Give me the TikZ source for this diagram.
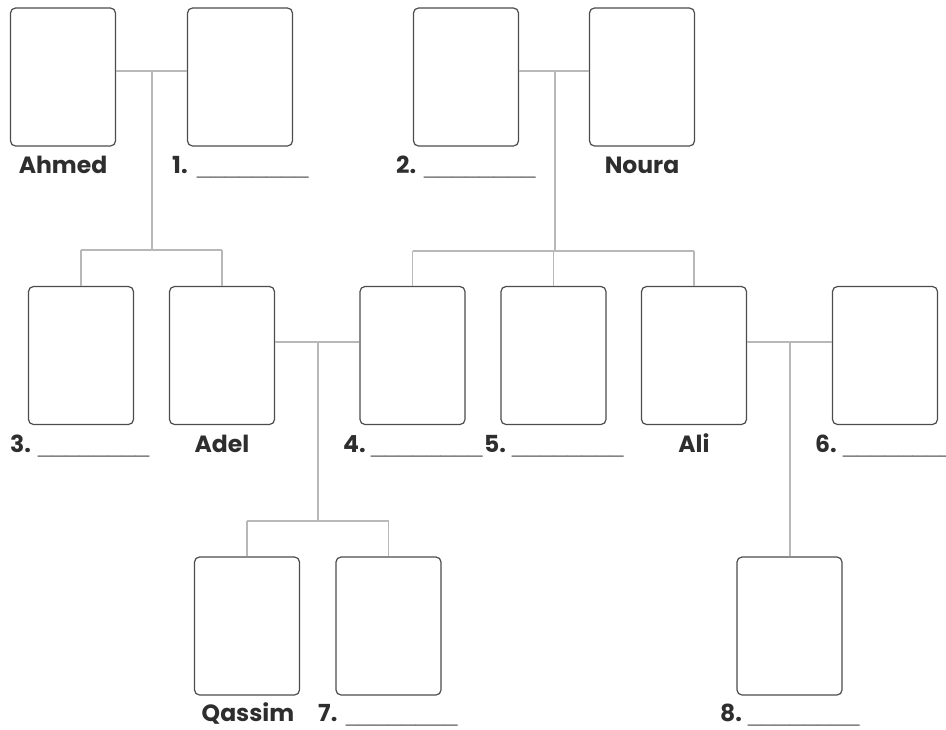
\documentclass[tikz,border=0pt]{standalone}
\usepackage{fontspec}
\setmainfont{Poppins}
\newfontfamily\blankfont{Liberation Sans}
\newcommand{\blankline}{{\blankfont\fontsize{25}{28}\selectfont\mdseries\color{black!50}\_\_\_\_\_\_\_\_}}
\newcommand{\numlbl}[1]{\makebox[28pt][l]{#1}\blankline}
\begin{document}
\begin{tikzpicture}[x=1pt,y=-1pt,
  card/.style={draw=black!70,line width=1.2pt,rounded corners=5pt,fill=white,
    minimum width=105pt,minimum height=138pt,inner sep=0pt},
  link/.style={draw=black!28,line width=1.4pt},
  lbl/.style={font=\fontsize{23.5}{26}\selectfont\bfseries,text=black!82,inner sep=0pt}]
\useasboundingbox (0,0) rectangle (946,729);
% junction points
\coordinate (m1) at (152,71);
\coordinate (j1) at (152,250);
\coordinate (m2) at (555,71);
\coordinate (j2) at (555,251);
\coordinate (m3) at (318,342);
\coordinate (j3) at (318,521);
\coordinate (m4) at (790,342);
% cards
\node[card] (ahmed) at (63,77) {};
\node[card] (c1) at (240,77) {};
\node[card] (c2) at (466,77) {};
\node[card] (noura) at (642,77) {};
\node[card] (c3) at (81,355.5) {};
\node[card] (adel) at (222,355.5) {};
\node[card] (c4) at (412.5,355.5) {};
\node[card] (c5) at (553.5,355.5) {};
\node[card] (ali) at (694,355.5) {};
\node[card] (c6) at (885,355.5) {};
\node[card] (qassim) at (247,626) {};
\node[card] (c7) at (388.5,626) {};
\node[card] (c8) at (789.5,626) {};
% links
\draw[link] (ahmed.east |- m1) -- (c1.west |- m1);
\draw[link] (m1) -- (j1);
\draw[link] (c3.north |- j1) -- (adel.north |- j1);
\draw[link] (c3.north |- j1) -- (c3.north);
\draw[link] (adel.north |- j1) -- (adel.north);
\draw[link] (c2.east |- m2) -- (noura.west |- m2);
\draw[link] (m2) -- (j2);
\draw[link] (c4.north |- j2) -- (ali.north |- j2);
\draw[link] (c4.north |- j2) -- (c4.north);
\draw[link] (c5.north |- j2) -- (c5.north);
\draw[link] (ali.north |- j2) -- (ali.north);
\draw[link] (adel.east |- m3) -- (c4.west |- m3);
\draw[link] (m3) -- (j3);
\draw[link] (qassim.north |- j3) -- (c7.north |- j3);
\draw[link] (qassim.north |- j3) -- (qassim.north);
\draw[link] (c7.north |- j3) -- (c7.north);
\draw[link] (ali.east |- m4) -- (c6.west |- m4);
\draw[link] (m4) -- (c8.north -| m4);
% labels
\node[lbl,anchor=base] (lahmed) at (63,173) {Ahmed};
\node[lbl,anchor=base west] (l1) at (172,173) {\makebox[25pt][l]{1.}\blankline};
\node[lbl,anchor=base west] (l2) at (396,173) {\numlbl{2.}};
\node[lbl,anchor=base] (lnoura) at (642,173) {Noura};
\node[lbl,anchor=base west] (l3) at (10,452) {\numlbl{3.}};
\node[lbl,anchor=base] (ladel) at (222,452) {Adel};
\node[lbl,anchor=base west] (l4) at (343,452) {\numlbl{4.}};
\node[lbl,anchor=base west] (l5) at (484,452) {\numlbl{5.}};
\node[lbl,anchor=base] (lali) at (694,452) {Ali};
\node[lbl,anchor=base west] (l6) at (815,452) {\numlbl{6.}};
\node[lbl,anchor=base] (lqassim) at (248,721) {Qassim};
\node[lbl,anchor=base west] (l7) at (318,721) {\numlbl{7.}};
\node[lbl,anchor=base west] (l8) at (720,721) {\numlbl{8.}};
\end{tikzpicture}
\end{document}
